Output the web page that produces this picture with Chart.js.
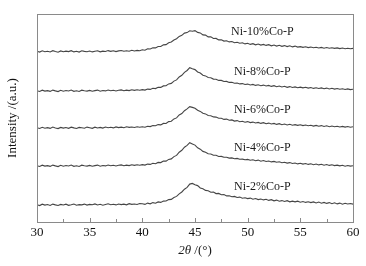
<!DOCTYPE html>
<html>
<head>
<meta charset="utf-8">
<script src="https://cdn.jsdelivr.net/npm/chart.js@4.4.1/dist/chart.umd.min.js"></script>
<style>
  html, body { margin: 0; padding: 0; background: #fff; }
  #xrd { display: block; }
</style>
</head>
<body>
<canvas id="xrd" width="366" height="266"></canvas>
<script>
// 2theta grid (deg)
const twoTheta = [
  30,30.25,30.5,30.75,31,31.25,31.5,31.75,32,32.25,32.5,32.75,33,33.25,33.5,33.75,34,34.25,34.5,34.75,
  35,35.25,35.5,35.75,36,36.25,36.5,36.75,37,37.25,37.5,37.75,38,38.25,38.5,38.75,39,39.25,39.5,39.75,
  40,40.25,40.5,40.75,41,41.25,41.5,41.75,42,42.25,42.5,42.75,43,43.25,43.5,43.75,
  44,44.25,44.5,44.75,45,45.25,45.5,45.75,
  46,46.25,46.5,46.75,47,47.25,47.5,47.75,48,48.25,48.5,48.75,49,49.25,49.5,49.75,
  50,50.25,50.5,50.75,51,51.25,51.5,51.75,52,52.25,52.5,52.75,53,53.25,53.5,53.75,54,54.25,54.5,54.75,
  55,55.25,55.5,55.75,56,56.25,56.5,56.75,57,57.25,57.5,57.75,58,58.25,58.5,58.75,59,59.25,59.5,59.75,60
];

// intensities (a.u., curves stacked with offsets)
const ni2 = [
  17.2,16.4,17.8,16.9,17.5,16.6,17.9,17.1,16.5,17.6,17.0,17.8,16.7,17.3,18.0,16.8,17.4,17.1,17.9,16.9,
  17.6,17.2,18.1,17.0,17.7,16.8,17.5,18.2,17.3,17.8,17.1,18.0,17.4,17.9,17.2,18.3,17.6,18.0,17.5,18.4,
  18.3,17.6,18.9,18.2,19.4,18.8,20.1,19.6,20.9,21.0,22.4,22.6,24.5,25.6,28.1,30.0,
  32.8,34.6,37.9,38.6,37.2,36.4,34.1,33.2,
  31.6,31.3,29.8,29.9,28.4,28.6,27.2,27.4,26.1,26.3,25.2,25.6,24.5,24.9,23.8,24.2,
  23.4,23.9,22.8,23.5,22.4,23.0,22.1,22.7,21.6,22.3,21.2,21.9,20.8,21.4,20.5,21.3,20.2,20.9,20.1,20.8,
  19.8,20.5,19.6,20.3,19.4,20.1,19.0,19.9,18.8,19.6,18.6,19.4,18.3,19.2,18.1,18.9,17.8,18.7,18.0,18.5,17.9
];
const ni4 = [
  56.3,55.5,56.8,55.9,56.4,55.6,56.9,56.1,55.4,56.7,55.8,56.5,56.0,56.9,55.7,56.3,55.5,56.8,56.2,55.9,
  56.6,55.7,56.4,56.9,55.8,56.5,56.1,57.0,56.2,56.8,56.0,56.7,57.1,56.3,56.9,56.4,57.3,56.6,57.2,56.8,
  57.4,56.9,57.9,57.6,58.7,58.3,59.6,59.4,60.9,60.9,62.6,63.1,65.4,66.6,69.8,71.7,
  74.8,76.6,79.3,78.1,76.9,74.2,72.8,70.6,
  69.8,68.2,68.0,66.8,66.7,65.5,65.6,64.7,64.8,63.9,64.1,63.2,63.6,62.7,62.9,62.2,
  62.6,61.7,62.2,61.3,61.9,60.8,61.5,60.5,61.0,60.1,60.6,59.7,60.2,59.3,59.8,58.9,59.4,58.5,59.0,58.1,
  58.7,57.9,58.5,57.6,58.2,57.3,58.0,57.1,57.7,56.8,57.5,56.6,57.2,56.4,56.9,56.1,56.7,55.8,56.5,55.9,56.3
];
const ni6 = [
  94.2,93.5,94.7,93.8,94.4,93.6,94.9,94.0,93.4,94.6,93.9,94.5,93.7,94.8,94.1,93.5,94.6,94.2,93.8,94.9,
  94.3,93.7,94.8,94.0,94.6,93.9,95.0,94.2,94.7,94.1,95.1,94.4,94.9,94.3,95.2,94.6,95.0,94.5,95.3,94.8,
  95.2,94.8,95.8,95.4,96.5,96.2,97.4,97.1,98.6,98.5,100.4,100.8,103.1,104.1,107.0,108.4,
  111.3,113.1,115.4,114.6,113.8,111.7,110.6,108.7,
  108.1,106.5,106.3,105.1,104.9,103.7,103.8,102.6,102.9,101.8,102.1,100.9,101.4,100.3,100.8,99.8,
  100.4,99.4,99.9,99.0,99.6,98.6,99.3,98.3,98.9,98.0,98.6,97.6,98.3,97.3,98.0,97.0,97.7,96.8,97.4,96.6,
  97.2,96.4,97.0,96.2,96.8,95.9,96.6,95.8,96.4,95.5,96.2,95.3,96.0,95.2,95.8,95.0,95.6,94.9,95.5,94.8,95.3
];
const ni8 = [
  131.3,130.5,131.8,130.9,131.4,130.6,131.9,131.1,130.4,131.7,130.8,131.5,131.0,131.9,130.7,131.3,130.5,131.8,131.2,130.9,
  131.6,130.7,131.4,131.9,130.8,131.5,131.1,132.0,131.2,131.8,131.0,131.7,132.1,131.3,131.9,131.4,132.3,131.6,132.2,131.8,
  132.4,131.9,132.9,132.6,133.8,133.4,134.7,134.6,136.1,136.2,138.1,138.6,140.9,142.1,145.0,146.7,
  149.6,151.5,154.3,153.2,152.4,150.0,149.0,146.8,
  146.1,144.5,144.3,142.9,142.8,141.6,141.6,140.5,140.6,139.6,139.8,138.8,139.0,138.1,138.4,137.5,
  137.9,137.0,137.6,136.6,137.2,136.3,136.9,136.0,136.6,135.6,136.3,135.3,136.0,135.0,135.7,134.7,135.4,134.5,135.1,134.3,
  134.9,134.1,134.7,133.9,134.5,133.6,134.3,133.5,134.1,133.2,133.9,133.0,133.7,132.9,133.5,132.7,133.3,132.5,133.1,132.4,132.8
];
const ni10 = [
  170.7,169.9,171.2,170.3,170.8,170.0,171.3,170.5,169.8,171.1,170.2,170.9,170.4,171.3,170.1,170.7,169.9,171.2,170.6,170.3,
  171.0,170.1,170.8,171.3,170.2,170.9,170.5,171.4,170.6,171.2,170.4,171.1,171.5,170.7,171.3,170.8,171.7,171.0,171.6,171.2,
  172.3,171.8,173.2,173.0,174.2,174.1,175.5,175.5,177.1,177.4,179.3,180.0,182.0,183.3,185.6,186.7,
  188.9,189.4,191.2,190.8,191.4,189.6,189.1,187.1,
  186.9,185.1,185.1,183.5,183.6,182.1,182.3,180.9,181.3,180.1,180.5,179.3,179.8,178.7,179.2,178.1,
  178.7,177.6,178.3,177.2,178.0,176.9,177.6,176.6,177.3,176.2,177.0,175.9,176.7,175.7,176.4,175.4,176.2,175.1,175.9,174.9,
  175.4,174.6,175.2,174.4,175.0,174.2,174.8,174.0,174.6,173.8,174.5,173.7,174.3,173.6,174.1,173.4,174.0,173.3,173.8,173.2,173.6
];

const seriesNames = ['Ni-2%Co-P', 'Ni-4%Co-P', 'Ni-6%Co-P', 'Ni-8%Co-P', 'Ni-10%Co-P'];
const seriesValues = [ni2, ni4, ni6, ni8, ni10];
const xTicks = [30, 35, 40, 45, 50, 55, 60];

const serif = "'Liberation Serif', 'Times New Roman', serif";
const frameColor = '#8a8a8a';

// where the series names sit, in data units
const nameX = 51.4;
const nameY = [35, 74, 112, 150, 190];

const decorPlugin = {
  id: 'decor',
  afterDraw(chart) {
    const ctx = chart.ctx;
    const a = chart.chartArea;
    const xs = chart.scales.x;
    const ys = chart.scales.y;
    ctx.save();

    // frame
    ctx.strokeStyle = frameColor;
    ctx.lineWidth = 1;
    ctx.strokeRect(Math.round(a.left) + 0.5, Math.round(a.top) + 0.5,
      Math.round(a.right - a.left), Math.round(a.bottom - a.top));

    // inward ticks, major + minor
    for (let v = 30; v <= 60; v += 2.5) {
      const px = Math.round(xs.getPixelForValue(v)) + 0.5;
      const len = v % 5 === 0 ? 4 : 3;
      ctx.beginPath();
      ctx.moveTo(px, a.bottom);
      ctx.lineTo(px, a.bottom - len);
      ctx.stroke();
    }

    // series names
    ctx.fillStyle = '#1a1a1a';
    ctx.font = '12px ' + serif;
    ctx.textAlign = 'center';
    ctx.textBaseline = 'middle';
    seriesNames.forEach((n, i) => {
      ctx.fillText(n, xs.getPixelForValue(nameX), ys.getPixelForValue(nameY[i]));
    });

    // x title: 2θ /(°)
    const tx = (a.left + a.right) / 2;
    const ty = 251;
    ctx.textAlign = 'left';
    ctx.font = 'italic 13px ' + serif;
    const p1 = '2\u03b8';
    const w1 = ctx.measureText(p1).width;
    ctx.font = '13px ' + serif;
    const p2 = ' /(\u00b0)';
    const w2 = ctx.measureText(p2).width;
    let sx = tx - (w1 + w2) / 2;
    ctx.font = 'italic 13px ' + serif;
    ctx.fillText(p1, sx, ty);
    ctx.font = '13px ' + serif;
    ctx.fillText(p2, sx + w1, ty);

    ctx.restore();
  }
};

new Chart(document.getElementById('xrd'), {
  type: 'line',
  data: {
    datasets: seriesValues.map((vals, i) => ({
      label: seriesNames[i],
      data: twoTheta.map((t, k) => ({ x: t, y: vals[k] })),
      borderColor: '#454545',
      borderWidth: 1.1,
      pointRadius: 0,
      tension: 0,
      fill: false
    }))
  },
  options: {
    responsive: false,
    animation: false,
    devicePixelRatio: 1,
    layout: { padding: { top: 14, right: 13, left: 0, bottom: 0 } },
    plugins: { legend: { display: false }, tooltip: { enabled: false } },
    scales: {
      x: {
        type: 'linear',
        min: 30,
        max: 60,
        afterBuildTicks: (s) => { s.ticks = xTicks.map(v => ({ value: v })); },
        afterFit: (s) => { s.height = 44; },
        ticks: { color: '#111', font: { family: serif, size: 13 }, padding: 3, maxRotation: 0 },
        grid: { display: false, drawTicks: false },
        border: { display: false },
        title: { display: false }
      },
      y: {
        min: 0,
        max: 208,
        afterFit: (s) => { s.width = 37; },
        ticks: { display: false },
        grid: { display: false, drawTicks: false },
        border: { display: false },
        title: {
          display: true,
          text: 'Intensity /(a.u.)',
          color: '#111',
          font: { family: serif, size: 13 },
          padding: { top: 5, bottom: 0 }
        }
      }
    }
  },
  plugins: [decorPlugin]
});
</script>
</body>
</html>
